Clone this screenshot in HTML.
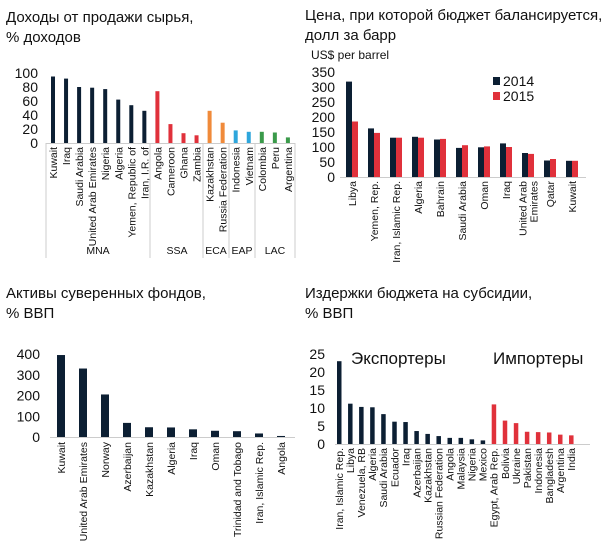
<!DOCTYPE html>
<html><head><meta charset="utf-8"><style>
body{margin:0;background:#fff}
svg{display:block;font-family:"Liberation Sans",Arial,sans-serif}
.t{font-size:15px;fill:#111}
.y{font-size:14px;fill:#111;text-anchor:end}
.c{font-size:10.5px;fill:#111;text-anchor:end}
.g{font-size:10.5px;fill:#111;text-anchor:middle}
</style></head><body>
<svg width="602" height="560" viewBox="0 0 602 560">
<text class="t" x="6" y="22">Доходы от продажи сырья,</text>
<text class="t" x="6" y="42">% доходов</text>
<text class="t" x="305" y="20">Цена, при которой бюджет балансируется,</text>
<text class="t" x="305" y="40">долл за барр</text>
<text class="t" x="6" y="298">Активы суверенных фондов,</text>
<text class="t" x="6" y="318">% ВВП</text>
<text class="t" x="305" y="298">Издержки бюджета на субсидии,</text>
<text class="t" x="305" y="318">% ВВП</text>
<g id="c1"></g><g id="c2"></g><g id="c3"></g><g id="c4"></g>
</svg>
<script>
const NS="http://www.w3.org/2000/svg";
function el(p,t,a,txt){const e=document.createElementNS(NS,t);for(const k in a)e.setAttribute(k,a[k]);if(txt!==undefined)e.textContent=txt;p.appendChild(e);return e;}
const N="#0c1f33",R="#e0313b",O="#f08a3a",B="#2ea6dc",G="#3a9a4a";
let g=document.getElementById('c1');
let base=143,sc=0.7;
for(let v=0;v<=100;v+=20)el(g,'text',{class:'y',x:38,y:base-v*sc+5},v);
el(g,'line',{x1:46,y1:base+0.5,x2:295,y2:base+0.5,stroke:'#ccc'});
const d1=[["Kuwait",95,N],["Iraq",92,N],["Saudi Arabia",80,N],["United Arab Emirates",79,N],["Nigeria",77,N],["Algeria",62,N],["Yemen, Republic of",54,N],["Iran, I.R. of",46,N],["Angola",74,R],["Cameroon",27,R],["Ghana",14,R],["Zambia",11,R],["Kazakhstan",46,O],["Russia Federation",29,O],["Indonesia",18,B],["Vietnam",16,B],["Colombia",16,G],["Peru",15,G],["Argentina",8,G]];
d1.forEach((d,i)=>{const x=53+i*13.05;el(g,'rect',{x:x-2,y:base-d[1]*sc,width:4,height:d[1]*sc,fill:d[2]});
el(g,'text',{class:'c',x:0,y:0,transform:`translate(${x+4},${base+4}) rotate(-90)`},d[0]);});
[46,150,203,229,255,295].forEach(x=>el(g,'line',{x1:x,y1:base,x2:x,y2:258,stroke:'#ccc'}));
[["MNA",98],["SSA",177],["ECA",216],["EAP",242],["LAC",275]].forEach(a=>el(g,'text',{class:'g',x:a[1],y:254},a[0]));
g=document.getElementById('c2');base=177;sc=0.3;
el(g,'text',{x:311,y:59,'font-size':12,fill:'#111'},"US$ per barrel");
for(let v=0;v<=350;v+=50)el(g,'text',{class:'y',x:335,y:base-v*sc+5},v);
el(g,'line',{x1:340,y1:base+0.5,x2:586,y2:base+0.5,stroke:'#ccc'});
const d2=[["Libya",318,185],["Yemen, Rep.",162,147],["Iran, Islamic Rep.",131,131],["Algeria",134,131],["Bahrain",125,127],["Saudi Arabia",97,106],["Oman",99,102],["Iraq",112,100],["United Arab|Emirates",80,77],["Qatar",55,60],["Kuwait",54,54]];
d2.forEach((d,i)=>{const x=352+i*22;el(g,'rect',{x:x-6,y:base-d[1]*sc,width:6,height:d[1]*sc,fill:N});
el(g,'rect',{x:x,y:base-d[2]*sc,width:6,height:d[2]*sc,fill:R});
const ls=d[0].split('|');ls.forEach((l,j)=>el(g,'text',{class:'c',x:0,y:0,transform:`translate(${x+4-(ls.length-1)*5.5+j*11},${base+4}) rotate(-90)`},l));});
el(g,'rect',{x:493,y:77,width:7,height:8,fill:N});el(g,'text',{x:503,y:86,'font-size':14,fill:'#111'},"2014");
el(g,'rect',{x:493,y:92,width:7,height:8,fill:R});el(g,'text',{x:503,y:101,'font-size':14,fill:'#111'},"2015");
g=document.getElementById('c3');base=437;sc=83/400;
for(let v=0;v<=400;v+=100)el(g,'text',{class:'y',x:40,y:base-v*sc+5},v);
el(g,'line',{x1:50,y1:base+0.5,x2:295,y2:base+0.5,stroke:'#ccc'});
const d3=[["Kuwait",395],["United Arab Emirates",330],["Norway",205],["Azerbaijan",68],["Kazakhstan",47],["Algeria",46],["Iraq",37],["Oman",30],["Trinidad and Tobago",28],["Iran, Islamic Rep.",17],["Angola",5]];
d3.forEach((d,i)=>{const x=61+i*22;el(g,'rect',{x:x-4,y:base-d[1]*sc,width:8,height:d[1]*sc,fill:N});
el(g,'text',{class:'c',x:0,y:0,transform:`translate(${x+4},${base+5}) rotate(-90)`},d[0]);});
g=document.getElementById('c4');base=444;sc=3.6;
for(let v=0;v<=25;v+=5)el(g,'text',{class:'y',x:325,y:base-v*sc+5},v);
el(g,'line',{x1:335,y1:base+0.5,x2:590,y2:base+0.5,stroke:'#ccc'});
const d4=[["Iran, Islamic Rep.",23],["Libya",11.2],["Venezuela, RB",10.3],["Algeria",10.2],["Saudi Arabia",8.3],["Ecuador",6.2],["Iraq",6.1],["Azerbaijan",3.6],["Kazakhstan",2.8],["Russian Federation",2.2],["Angola",1.7],["Malaysia",1.7],["Nigeria",1.3],["Mexico",1]];
const d5=[["Egypt, Arab Rep.",11],["Bolivia",6.5],["Ukraine",5.8],["Pakistan",3.4],["Indonesia",3.3],["Bangladesh",3.2],["Argentina",2.6],["India",2.4]];
d4.concat(d5).forEach((d,i)=>{const x=339+i*11.05;el(g,'rect',{x:x-2,y:base-d[1]*sc,width:4.5,height:d[1]*sc,fill:i<14?N:R});
el(g,'text',{class:'c',x:0,y:0,transform:`translate(${x+4},${base+4}) rotate(-90)`},d[0]);});
el(g,'text',{x:351,y:364,'font-size':17,fill:'#111'},"Экспортеры");
el(g,'text',{x:493,y:364,'font-size':17,fill:'#111'},"Импортеры");
</script>
</body></html>
